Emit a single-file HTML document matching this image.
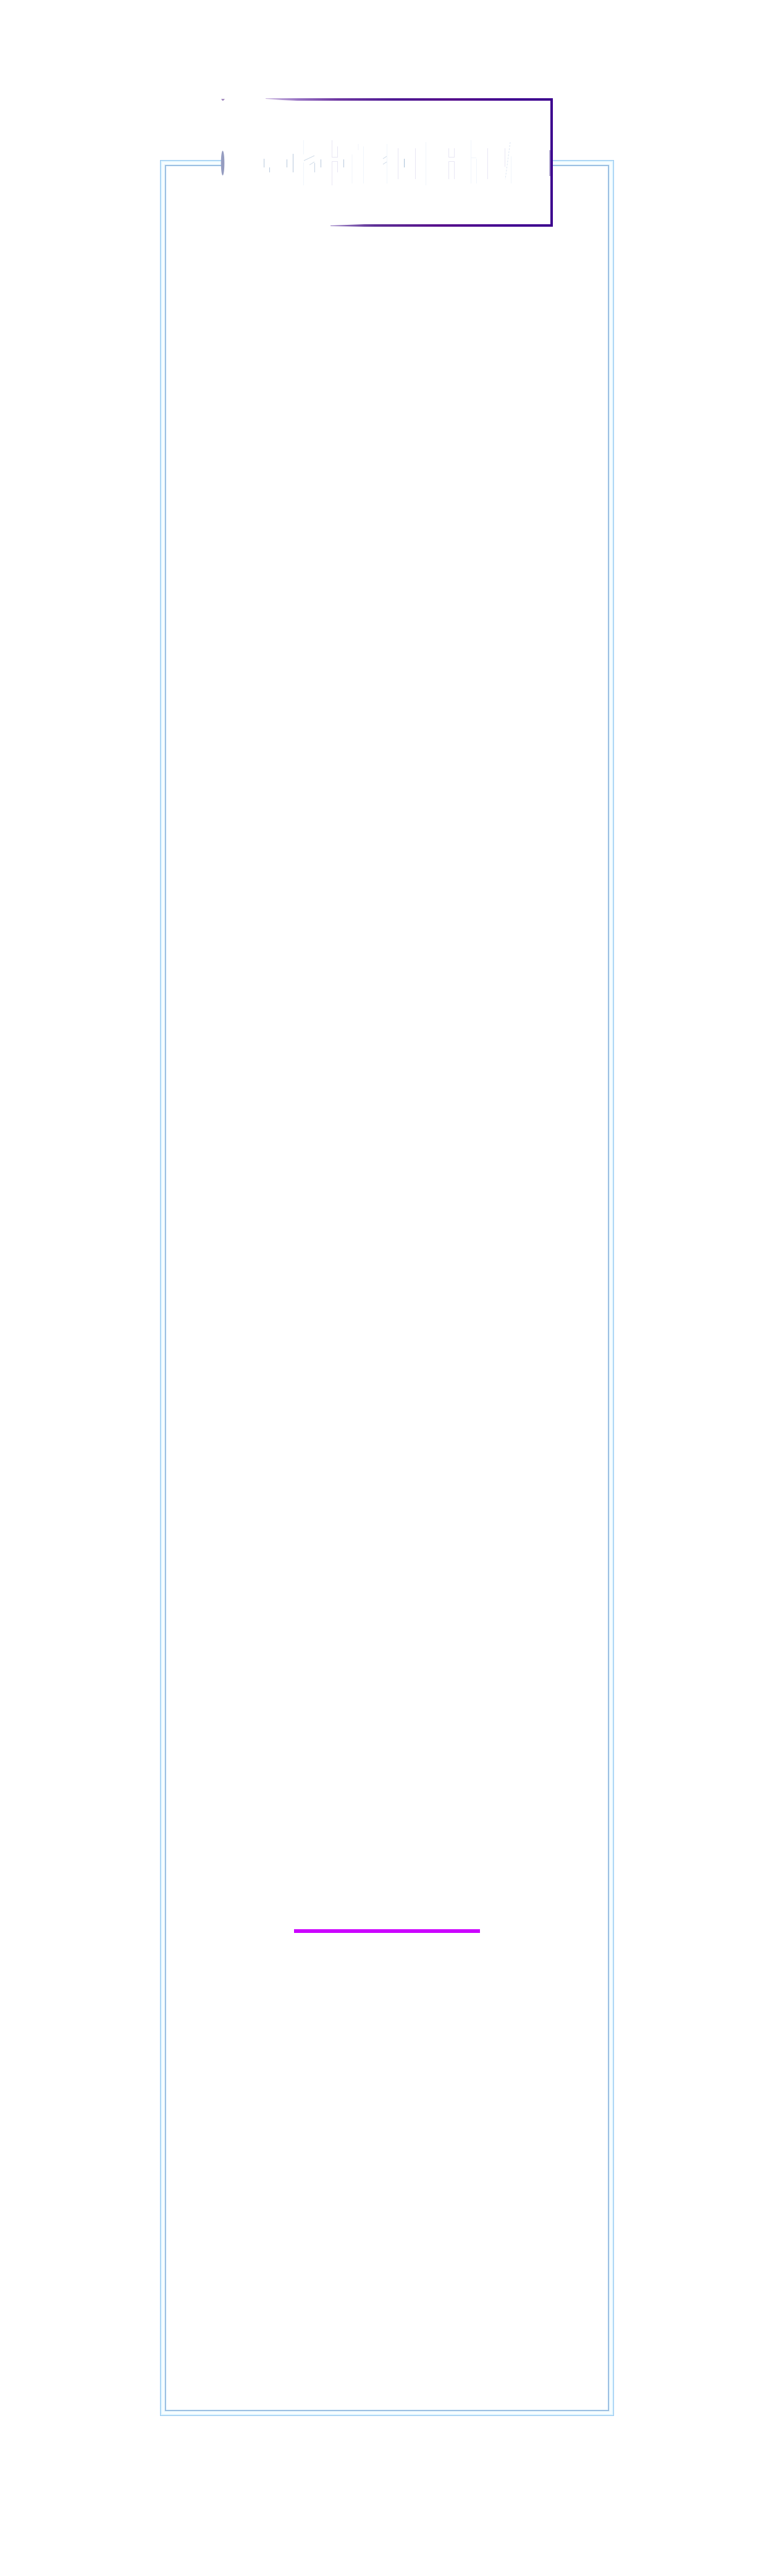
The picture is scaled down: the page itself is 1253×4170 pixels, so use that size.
<!DOCTYPE html>
<html>
<head>
<meta charset="utf-8">
<title>Diagram</title>
<style>
html,body{margin:0;padding:0;background:#fff}
svg{display:block}
</style>
</head>
<body>
<svg xmlns="http://www.w3.org/2000/svg" width="1253" height="4170" viewBox="0 0 1253 4170">
<defs>
<linearGradient id="t" gradientUnits="userSpaceOnUse" x1="430" y1="0" x2="895" y2="0">
<stop offset="0" stop-color="#cdbbe0"/>
<stop offset="0.12" stop-color="#9670c2"/>
<stop offset="0.25" stop-color="#6f38a2"/>
<stop offset="0.45" stop-color="#4f1a94"/>
<stop offset="0.65" stop-color="#560f8c"/>
<stop offset="0.85" stop-color="#3f0090"/>
<stop offset="1" stop-color="#3c008e"/>
</linearGradient>
<linearGradient id="b" gradientUnits="userSpaceOnUse" x1="535" y1="0" x2="895" y2="0">
<stop offset="0" stop-color="#9a80c4"/>
<stop offset="0.2" stop-color="#5e3096"/>
<stop offset="0.5" stop-color="#580f8c"/>
<stop offset="0.8" stop-color="#420092"/>
<stop offset="1" stop-color="#3c008e"/>
</linearGradient>
</defs>
<rect width="1253" height="4170" fill="#fff"/>

<!-- outer frame -->
<g fill="none" stroke-linejoin="miter">
<path d="M360 264 H264 V3906 H989 V264 H893" stroke="#9ccaf0" stroke-width="10"/>
<path d="M360 264 H264 V3906 H989 V264 H893" stroke="#c4e6fb" stroke-width="8"/>
<path d="M360 264 H264 V3906 H989 V264 H893" stroke="#e6f8ff" stroke-width="6"/>
<path d="M360 264 H264 V3906 H989 V264 H893" stroke="#fafeff" stroke-width="3"/>
<path d="M360 267.5 H267.5 V3902.5 H985.5 V267.5 H893" stroke="#9cb6d6" stroke-width="1"/>
</g>

<!-- purple box -->
<rect x="360" y="159" width="535" height="208" fill="#fff"/>
<polygon points="430,159 895,159 895,163 481,163 457,162 430,160" fill="url(#t)"/>
<rect x="891" y="159" width="4" height="208" fill="#3c008e"/>
<polygon points="535,365 590,363 895,363 895,367 590,367 535,366" fill="url(#b)"/>

<!-- connector stubs -->
<polygon points="358,160 364,160 361.5,163 360,163" fill="#a48cc0"/>
<ellipse cx="360.5" cy="264" rx="2.8" ry="20" fill="#959cc0"/>
<rect x="889" y="243" width="2" height="42" fill="#b5acd4"/>

<!-- faint label fragments -->
<g shape-rendering="crispEdges" fill="none" stroke-width="1">
<g stroke="#b9c9dd">
<path d="M427.5 257V271M436.5 271V279M464.5 258V271M474.5 249V279M519.5 258V271M556.5 258V271"/>
</g>
<g stroke="#e8e6f4">
<path d="M537.5 227V254M537.5 262V300M546.5 237V254M546.5 262V279M537 254.5H547M537 261.5H547"/>
<path d="M644.5 240V290M672.5 240V290M726.5 240V254M726.5 262V290M735.5 240V254M735.5 262V290M726 254.5H736M726 261.5H736M789.5 240V290M817.5 240V270"/>
</g>
<g stroke="#f0f5fb">
<path d="M491.5 227V250M491.5 263V300M509.5 263V279M570 250V297M580 233V243M588.5 237V297M626.5 233V297M689.5 230V300M762.5 227V297M771.5 257V297M762 255.5H771M827.5 253V297"/>
</g>
<path d="M654.5 257V271" stroke="#a9c1d8"/>
<path d="M509.5 264V279" stroke="#c8d4e4"/>
</g>
<g fill="none" stroke-width="1">
<path d="M492 260L509 252M501 267L509 262" stroke="#cfdbe8"/>
<path d="M620 257L626 253M620 266L626 262" stroke="#cfdbe8"/>
<path d="M826 230L818 290" stroke="#dfe8f4" stroke-dasharray="3 2"/>
</g>

<!-- magenta line -->
<rect x="476" y="3123" width="301" height="6" fill="#cc00ff"/>
</svg>
</body>
</html>
